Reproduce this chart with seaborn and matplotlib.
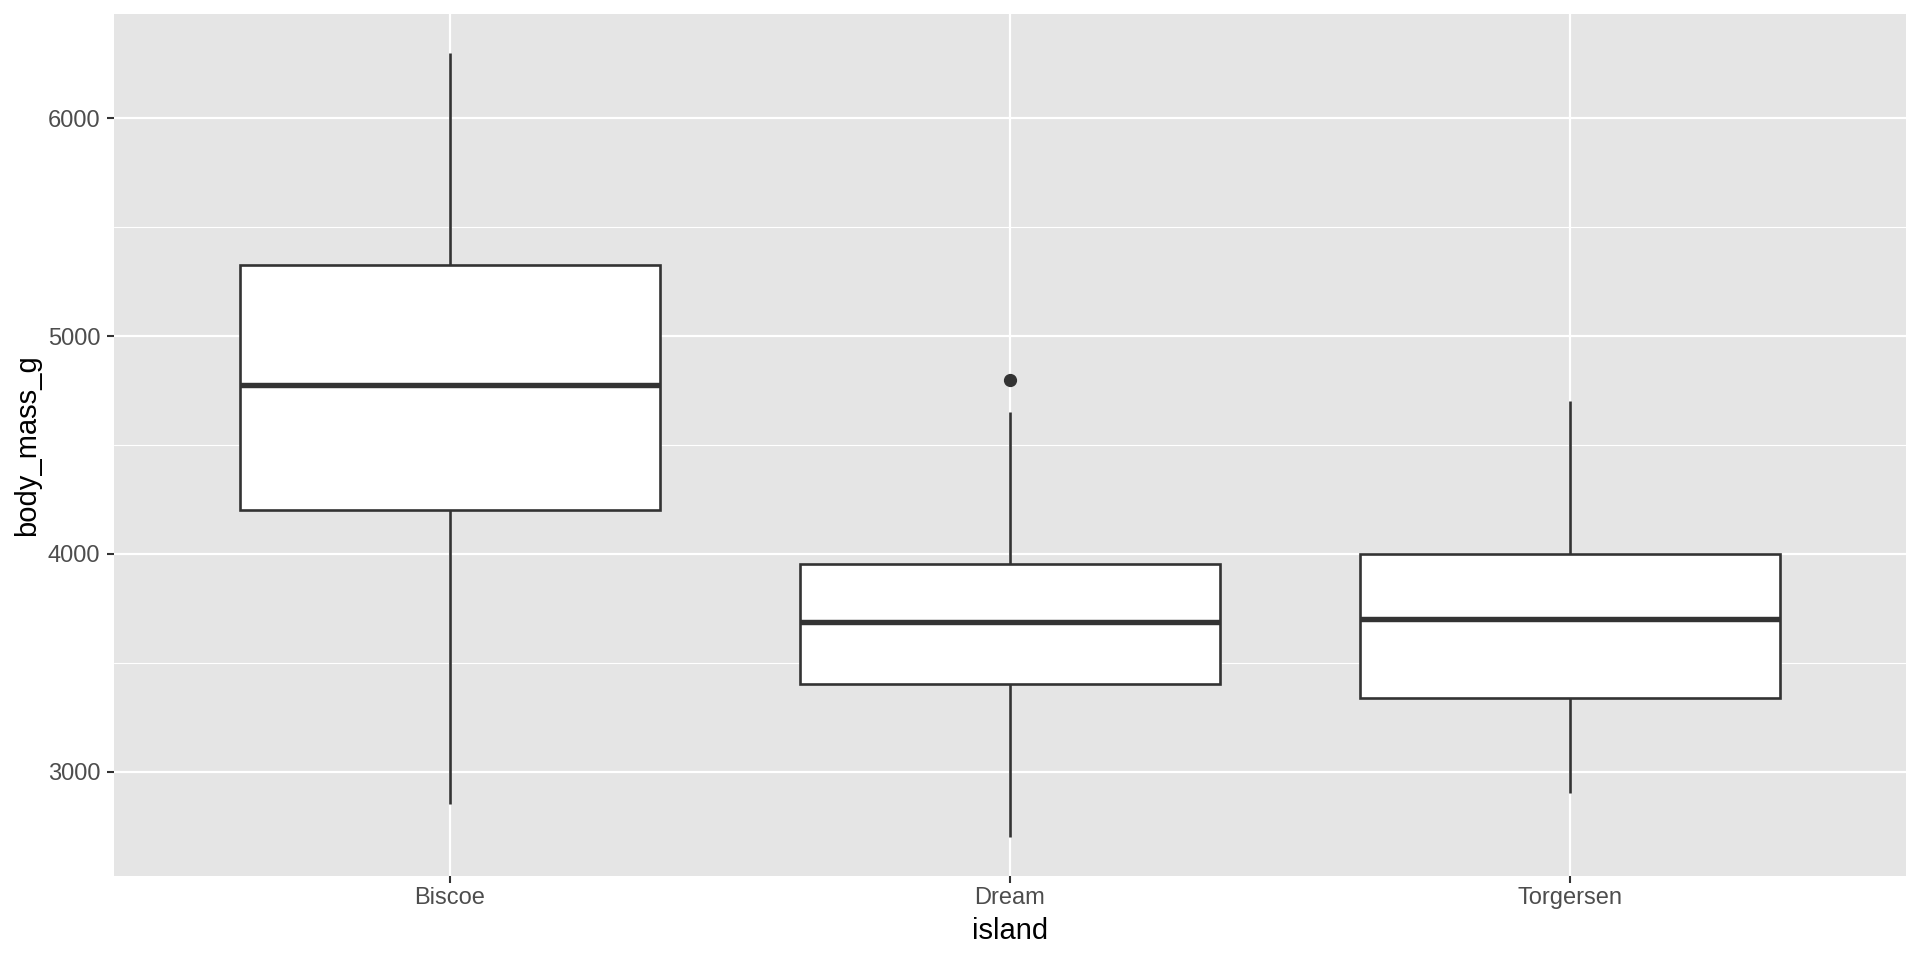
import numpy as np
import pandas as pd
import matplotlib
matplotlib.use("Agg")
import matplotlib.pyplot as plt
import seaborn as sns
from matplotlib.ticker import FixedLocator

# ---- data (five-number summaries) ----
islands = ["Biscoe", "Dream", "Torgersen"]
whisker_low = [2850, 2700, 2900]
q1 = [4200, 3400, 3338.75]
median = [4775, 3687.5, 3700]
q3 = [5325, 3955, 4000]
whisker_high = [6300, 4650, 4700]
outliers = [[], [4800], []]

y_major = [3000, 4000, 5000, 6000]
y_minor = [3500, 4500, 5500]

# Build a small table whose quartiles/whiskers reproduce the summaries
rows = []
for i, name in enumerate(islands):
    vals = [whisker_low[i], q1[i], q1[i], median[i], median[i],
            q3[i], q3[i], whisker_high[i]] + list(outliers[i])
    for v in vals:
        rows.append({"island": name, "body_mass_g": v})
df = pd.DataFrame(rows)

sns.set_theme(style="darkgrid")
plt.rcParams["font.family"] = ["Liberation Sans", "DejaVu Sans"]

fig = plt.figure(figsize=(19.2, 9.6), dpi=100)
ax = fig.add_axes([114 / 1920, 1 - 876 / 960, (1906 - 114) / 1920, (876 - 14) / 960])
ax.set_facecolor("#E5E5E5")

line_col = "#333333"
sns.boxplot(
    data=df, x="island", y="body_mass_g", order=islands, ax=ax,
    width=0.75, color="white", saturation=1, linecolor=line_col,
    linewidth=1.9, whis=1.5,
    medianprops=dict(linewidth=3.9, color=line_col),
    capprops=dict(linewidth=0),
    flierprops=dict(marker="o", markersize=8.5, markerfacecolor=line_col,
                    markeredgecolor=line_col),
    zorder=3,
)

ax.set_xlim(-0.6, 2.6)
ax.set_ylim(2520, 6480)
ax.yaxis.set_major_locator(FixedLocator(y_major))
ax.yaxis.set_minor_locator(FixedLocator(y_minor))
ax.set_yticklabels([str(v) for v in y_major])

ax.grid(which="major", color="white", linewidth=1.6)
ax.grid(which="minor", axis="y", color="white", linewidth=0.8)
ax.set_axisbelow(True)
for s in ax.spines.values():
    s.set_visible(False)

ax.tick_params(axis="both", which="major", bottom=True, left=True,
               length=5, width=1.5, color=line_col,
               labelsize=17, labelcolor="#4D4D4D")
ax.tick_params(axis="y", which="major", pad=5.0)
ax.tick_params(axis="x", which="major", pad=3.2)
ax.tick_params(axis="y", which="minor", length=0, left=False)

ax.set_xlabel("island", fontsize=21, color="black")
ax.set_ylabel("body_mass_g", fontsize=21, color="black")
ax.xaxis.set_label_coords(0.5, (876 - 931) / 862)
ax.xaxis.label.set_va("center")
ax.yaxis.set_label_coords((27 - 114) / 1792, 0.5)
ax.yaxis.label.set_va("center")

fig.savefig("out.png", dpi=100, facecolor="white")
